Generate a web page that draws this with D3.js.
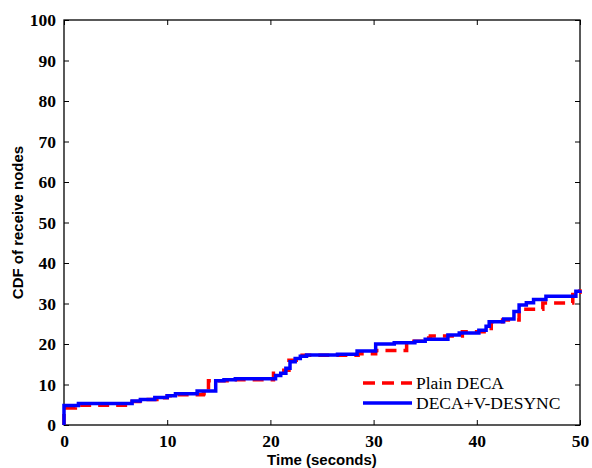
<!DOCTYPE html>
<html>
<head>
<meta charset="utf-8">
<script src="https://cdn.jsdelivr.net/npm/d3@7"></script>
<style>
html,body{margin:0;padding:0;background:#fff;}
svg{display:block;}
</style>
</head>
<body>
<svg id="chart" width="592" height="468"></svg>
<script>
// ---- data ----
const seriesNames = ["Plain DECA", "DECA+V-DESYNC"];
const seriesColors = ["#ff0000", "#0000ff"];
const xTicks = [0, 10, 20, 30, 40, 50];
const yTicks = [0, 10, 20, 30, 40, 50, 60, 70, 80, 90, 100];
// Plain DECA: [time, cdf]
const plainTime = [0, 0, 1.1, 6.6, 7.7, 9.0, 10.0, 11.0, 13.5, 14.0, 16.0, 20.3, 21.3, 21.8, 22.5, 28.5, 30.2, 33.2, 35.0, 35.5, 38.6, 41.4, 42.5, 44.1, 46.4, 49.3, 50];
const plainCdf  = [0, 4.2, 4.9, 5.8, 6.3, 6.7, 7.2, 7.5, 7.7, 10.9, 11.2, 12.8, 13.5, 16.0, 17.2, 17.6, 18.4, 20.7, 21.5, 22.0, 23.0, 25.5, 25.9, 28.6, 30.1, 32.8, 33.5];
// DECA+V-DESYNC: [time, cdf]
const vdTime = [0, 0, 1.4, 6.6, 7.4, 8.8, 10.0, 10.8, 12.9, 14.7, 15.5, 16.6, 20.5, 21.0, 21.5, 21.9, 22.4, 22.9, 23.5, 26.5, 28.4, 30.2, 32.0, 34.0, 35.0, 37.2, 38.3, 40.2, 40.9, 41.2, 42.6, 43.6, 44.1, 44.8, 45.5, 46.7, 49.6, 50];
const vdCdf  = [0, 4.8, 5.3, 5.9, 6.3, 6.8, 7.2, 7.7, 8.4, 10.9, 11.2, 11.4, 12.2, 12.8, 14.0, 15.6, 16.4, 17.0, 17.3, 17.5, 18.3, 20.0, 20.3, 20.7, 21.2, 22.2, 22.7, 23.4, 24.4, 25.5, 26.2, 28.0, 29.6, 30.2, 31.0, 31.8, 33.0, 33.3];

// ---- layout ----
const svg = d3.select("#chart");
const L = 64, R = 580, T = 20, B = 425;
const x = d3.scaleLinear().domain([0, 50]).range([L, R]);
const y = d3.scaleLinear().domain([0, 100]).range([B, T]);

const tickFont = "'Liberation Serif','Times New Roman',serif";
const sansFont = "'Liberation Sans',Arial,sans-serif";

// axes (inner ticks on all sides)
const axB = svg.append("g").attr("transform", `translate(0,${B})`)
  .call(d3.axisBottom(x).tickValues(xTicks).tickSize(-5).tickPadding(10).tickSizeOuter(0));
const axL = svg.append("g").attr("transform", `translate(${L},0)`)
  .call(d3.axisLeft(y).tickValues(yTicks).tickSize(-5).tickPadding(8).tickSizeOuter(0));
const axT = svg.append("g").attr("transform", `translate(0,${T})`)
  .call(d3.axisTop(x).tickValues(xTicks).tickSize(-5).tickFormat("").tickSizeOuter(0));
const axR = svg.append("g").attr("transform", `translate(${R},0)`)
  .call(d3.axisRight(y).tickValues(yTicks).tickSize(-5).tickFormat("").tickSizeOuter(0));
[axB, axL, axT, axR].forEach(g => {
  g.select(".domain").remove();
  g.selectAll("line").attr("stroke", "#000").attr("stroke-width", 1);
  g.selectAll("text").attr("font-family", tickFont).attr("font-weight", "bold")
    .attr("font-size", 17.5).attr("fill", "#000");
});

// frame
svg.append("rect").attr("x", L).attr("y", T).attr("width", R - L).attr("height", B - T)
  .attr("fill", "none").attr("stroke", "#000").attr("stroke-width", 1.3);

// lines
const line = d3.line().x(d => x(d[0])).y(d => y(d[1])).curve(d3.curveStepAfter);
const plainData = plainTime.map((t, i) => [t, plainCdf[i]]);
const vdData = vdTime.map((t, i) => [t, vdCdf[i]]);

svg.append("path").datum(plainData).attr("d", line)
  .attr("fill", "none").attr("stroke", seriesColors[0]).attr("stroke-width", 3.5)
  .attr("stroke-dasharray", "11,7");
svg.append("path").datum(vdData).attr("d", line)
  .attr("fill", "none").attr("stroke", seriesColors[1]).attr("stroke-width", 3.5);

// legend
const leg = svg.append("g");
[0, 1].forEach(i => {
  const yy = 383 + i * 20;
  leg.append("line").attr("x1", 363).attr("x2", 412).attr("y1", yy).attr("y2", yy)
    .attr("stroke", seriesColors[i]).attr("stroke-width", 3.5)
    .attr("stroke-dasharray", i === 0 ? "12,7" : null);
  leg.append("text").attr("x", 416).attr("y", yy + 6).text(seriesNames[i])
    .attr("font-family", tickFont).attr("font-size", 17.5).attr("fill", "#000");
});

// axis titles
svg.append("text").attr("x", (L + R) / 2).attr("y", 465).attr("text-anchor", "middle")
  .attr("font-family", sansFont).attr("font-weight", "bold").attr("font-size", 15)
  .text("Time (seconds)");
svg.append("text").attr("transform", `translate(23,${(T + B) / 2}) rotate(-90)`)
  .attr("text-anchor", "middle")
  .attr("font-family", sansFont).attr("font-weight", "bold").attr("font-size", 15)
  .text("CDF of receive nodes");
</script>
</body>
</html>
